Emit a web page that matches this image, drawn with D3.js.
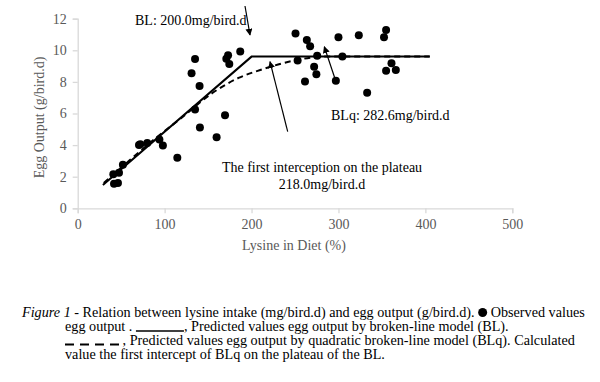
<!DOCTYPE html>
<html>
<head>
<meta charset="utf-8">
<script src="https://cdn.jsdelivr.net/npm/d3@7"></script>
<style>
  body { margin: 0; background: #fff; }
  svg { display: block; font-family: "Liberation Serif", "Times New Roman", serif; }
  .cap text { white-space: pre; }
</style>
</head>
<body>
<div id="chart"></div>
<script>
// observed values: lysine intake (mg/bird.d) vs egg output (g/bird.d)
const intake = [41.8, 46.3, 41, 47.5, 52, 70.5, 72, 80, 94, 98, 114.6, 135, 140.6, 159.8, 169.5,
    131, 135, 140.2, 171, 173, 174.4, 187, 250.6, 263.6, 267.4, 300, 323.4, 354.8, 352.4,
    253, 275.5, 304.5, 272, 274.6, 261.5, 297, 333, 361, 354.8, 366];
const eggOut = [1.55, 1.6, 2.15, 2.25, 2.75, 4.0, 4.05, 4.13, 4.35, 3.97, 3.2, 6.25, 5.12, 4.5, 5.89,
    8.54, 9.45, 7.74, 9.47, 9.68, 9.13, 9.93, 11.07, 10.65, 10.25, 10.82, 10.95, 11.28, 10.82,
    9.36, 9.65, 9.6, 8.96, 8.48, 8.02, 8.08, 7.32, 9.18, 8.71, 8.75];

// broken-line model (BL)
const blX = [29, 200, 405];
const blY = [1.47, 9.6, 9.6];

// quadratic broken-line model (BLq)
const blqX = [30, 60, 87, 120, 155, 185, 210, 250, 282.6, 405];
const blqY = [1.6, 3.05, 4.32, 5.75, 7.3, 8.25, 8.75, 9.36, 9.6, 9.6];

const xTicks = [0, 100, 200, 300, 400, 500];
const yTicks = [0, 2, 4, 6, 8, 10, 12];

const W = 600, H = 382;
const plot = {left: 77.7, right: 512.3, top: 18.7, bottom: 208.3};
const axisColor = "#d9d9d9";
const labelColor = "#595959";
const capSize = 14.2;

const svg = d3.select("#chart").append("svg")
    .attr("width", W)
    .attr("height", H);

const x = d3.scaleLinear().domain([0, 500]).range([plot.left, plot.right]);
const y = d3.scaleLinear().domain([0, 12]).range([plot.bottom, plot.top]);

// axes
const xAxis = svg.append("g")
    .attr("transform", `translate(0,${plot.bottom})`)
    .call(d3.axisBottom(x).tickValues(xTicks).tickSize(5).tickPadding(6));
const yAxis = svg.append("g")
    .attr("transform", `translate(${plot.left},0)`)
    .call(d3.axisLeft(y).tickValues(yTicks).tickSize(5).tickPadding(6));

[xAxis, yAxis].forEach(g => {
    g.select(".domain").attr("stroke", axisColor).attr("stroke-width", 1.3);
    g.selectAll(".tick line").attr("stroke", axisColor).attr("stroke-width", 1.3);
    g.selectAll(".tick text")
        .attr("fill", labelColor)
        .style("font-family", "Liberation Serif")
        .style("font-size", "14px");
});

svg.append("text")
    .attr("transform", `translate(44,${(plot.top + plot.bottom) / 2 + 4}) rotate(-90)`)
    .attr("text-anchor", "middle")
    .attr("fill", labelColor)
    .style("font-size", "14px")
    .text("Egg Output (g/bird.d)");

svg.append("text")
    .attr("x", 294)
    .attr("y", 250)
    .attr("text-anchor", "middle")
    .attr("fill", labelColor)
    .style("font-size", "14px")
    .text("Lysine in Diet (%)");

// model lines
const line = d3.line()
    .x(d => x(d[0]))
    .y(d => y(d[1]));

svg.append("path")
    .datum(d3.zip(blqX, blqY))
    .attr("fill", "none")
    .attr("stroke", "#000")
    .attr("stroke-width", 2)
    .attr("stroke-dasharray", "6,4")
    .attr("d", line.curve(d3.curveMonotoneX));

svg.append("path")
    .datum(d3.zip(blX, blY))
    .attr("fill", "none")
    .attr("stroke", "#000")
    .attr("stroke-width", 2)
    .attr("d", line.curve(d3.curveLinear));

// observed points
svg.append("g")
    .selectAll("circle")
    .data(d3.zip(intake, eggOut))
    .join("circle")
        .attr("cx", d => x(d[0]))
        .attr("cy", d => y(d[1]))
        .attr("r", 4)
        .attr("fill", "#000");

// arrows
svg.append("defs").append("marker")
    .attr("id", "head")
    .attr("viewBox", "0 0 10 10")
    .attr("refX", 9)
    .attr("refY", 5)
    .attr("markerWidth", 7)
    .attr("markerHeight", 7)
    .attr("markerUnits", "userSpaceOnUse")
    .attr("orient", "auto")
  .append("path")
    .attr("d", "M0,0L10,5L0,10z")
    .attr("fill", "#000");

const arrows = [
    [[245, 6], [250, 35]],
    [[287.7, 131.7], [270, 61.7]],
    [[335.7, 80.7], [324.3, 46.7]]
];
svg.append("g")
    .selectAll("line")
    .data(arrows)
    .join("line")
        .attr("x1", d => d[0][0])
        .attr("y1", d => d[0][1])
        .attr("x2", d => d[1][0])
        .attr("y2", d => d[1][1])
        .attr("stroke", "#000")
        .attr("stroke-width", 1.2)
        .attr("marker-end", "url(#head)");

// annotations
const notes = [
    {t: "BL: 200.0mg/bird.d", x: 135, y: 25, a: "start"},
    {t: "BLq: 282.6mg/bird.d", x: 331, y: 120, a: "start"},
    {t: "The first interception on the plateau", x: 322, y: 172, a: "middle"},
    {t: "218.0mg/bird.d", x: 322, y: 189, a: "middle"}
];
svg.append("g")
    .selectAll("text")
    .data(notes)
    .join("text")
        .attr("x", d => d.x)
        .attr("y", d => d.y)
        .attr("text-anchor", d => d.a)
        .style("font-size", "14px")
        .text(d => d.t);

// caption
const cap = svg.append("g").attr("class", "cap")
    .style("font-size", capSize + "px").attr("fill", "#000");

const l1 = cap.append("text").attr("x", 22).attr("y", 317);
l1.append("tspan").style("font-style", "italic").text("Figure 1");
l1.append("tspan").text(" - Relation between lysine intake (mg/bird.d) and egg output (g/bird.d). ");
let w = l1.node().getComputedTextLength();
cap.append("circle")
    .attr("cx", 22 + w + 4.5).attr("cy", 312.5).attr("r", 4.5);
cap.append("text").attr("x", 22 + w + 9).attr("y", 317).text(" Observed values");

const l2a = cap.append("text").attr("x", 65).attr("y", 331).text("egg output . ");
w = l2a.node().getComputedTextLength();
cap.append("line")
    .attr("x1", 65 + w).attr("x2", 65 + w + 48)
    .attr("y1", 331).attr("y2", 331)
    .attr("stroke", "#000").attr("stroke-width", 1.5);
cap.append("text").attr("x", 65 + w + 48).attr("y", 331)
    .text(", Predicted values egg output by broken-line model (BL).");

cap.append("line")
    .attr("x1", 65).attr("x2", 119)
    .attr("y1", 344.5).attr("y2", 344.5)
    .attr("stroke", "#000").attr("stroke-width", 1.8)
    .attr("stroke-dasharray", "9,6");
cap.append("text").attr("x", 119).attr("y", 345)
    .text(" , Predicted values egg output by quadratic broken-line model (BLq). Calculated");

cap.append("text").attr("x", 65).attr("y", 359)
    .text("value the first intercept of BLq on the plateau of the BL.");
</script>
</body>
</html>
